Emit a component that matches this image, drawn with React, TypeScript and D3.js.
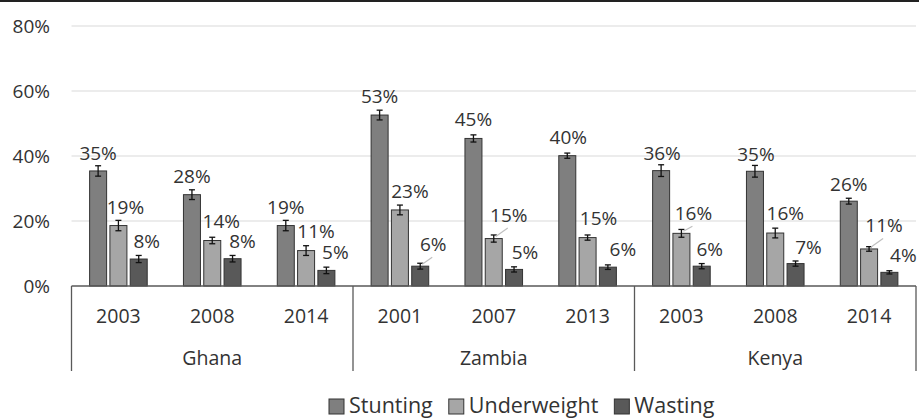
import { useEffect, useRef } from "react";
import * as d3 from "d3";

const countries = ["Ghana", "Zambia", "Kenya"];
const years = ["2003", "2008", "2014", "2001", "2007", "2013", "2003", "2008", "2014"];
const seriesNames = ["Stunting", "Underweight", "Wasting"];

const stunting = [35.4, 28.1, 18.6, 52.6, 45.4, 40.1, 35.5, 35.3, 26.1];
const underweight = [18.6, 14.0, 10.9, 23.4, 14.6, 14.9, 16.2, 16.3, 11.4];
const wasting = [8.3, 8.4, 4.8, 6.1, 5.1, 5.8, 6.1, 6.9, 4.2];

const stuntingErr = [1.6, 1.5, 1.6, 1.5, 1.1, 0.8, 1.8, 1.8, 0.9];
const underweightErr = [1.6, 1.0, 1.5, 1.5, 1.1, 0.8, 1.2, 1.5, 0.7];
const wastingErr = [1.1, 1.0, 1.0, 0.9, 0.8, 0.7, 0.8, 0.8, 0.5];

const yTicks = [0, 20, 40, 60, 80];

const COLORS = ["#7f7f7f", "#a6a6a6", "#595959"];
const FONT = "'Open Sans', sans-serif";

// manual label nudges [dx, dy] per category / series (labels were dragged in the original)
const labelNudge: [number, number][][] = [
  [[0, -18], [7, -18], [8, -18]],
  [[0, -18], [9, -19], [10, -17]],
  [[0, -18], [10, -19], [9, -18]],
  [[0, -19], [10, -19], [13, -22]],
  [[0, -19], [15, -23.5], [11, -17]],
  [[1, -18], [11, -19], [15, -18]],
  [[1, -17], [12, -20], [8, -17]],
  [[1, -17], [10, -20], [13, -16]],
  [[0, -17], [15, -23.5], [14, -17]],
];
const leaders = new Set(["3-2", "4-1", "6-1", "8-1"]);

export default function App() {
  const svgRef = useRef<SVGSVGElement>(null);

  useEffect(() => {
    const svgEl = svgRef.current;
    if (!svgEl) return;
    const width = 919;
    const height = 419;
    const left = 71.5;
    const right = 916;
    const top = 26;
    const bottom = 286;

    const svg = d3.select(svgEl);
    svg.selectAll("*").remove();
    svg.append("rect").attr("width", width).attr("height", height).attr("fill", "#fff");
    svg.append("line").attr("x1", 0).attr("x2", width).attr("y1", 1).attr("y2", 1)
      .attr("stroke", "#222").attr("stroke-width", 2);

    const values = [stunting, underweight, wasting];
    const errs = [stuntingErr, underweightErr, wastingErr];

    const y = d3.scaleLinear().domain([0, 80]).range([bottom, top]);
    const x0 = d3.scaleBand<number>().domain(d3.range(years.length)).range([left, right]);
    const half = 28.8;
    const x1 = d3.scaleBand<number>().domain([0, 1, 2])
      .range([x0.bandwidth() / 2 - half, x0.bandwidth() / 2 + half]).paddingInner(0.1626);
    const xg = d3.scaleBand<number>().domain(d3.range(countries.length)).range([left, right]);

    // gridlines
    svg.append("g").selectAll("line").data(yTicks.filter((t) => t > 0)).enter().append("line")
      .attr("x1", left).attr("x2", right).attr("y1", (d) => y(d)).attr("y2", (d) => y(d))
      .attr("stroke", "#d9d9d9").attr("stroke-width", 1.2);

    // y tick labels
    svg.append("g").selectAll("text").data(yTicks).enter().append("text")
      .attr("x", 50).attr("y", (d) => y(d)).attr("dy", "0.35em")
      .attr("text-anchor", "end").attr("font-family", FONT).attr("font-size", 19)
      .attr("fill", "#333").text((d) => `${d}%`);

    // bars
    const cat = svg.append("g").selectAll("g").data(d3.range(years.length)).enter().append("g")
      .attr("transform", (i) => `translate(${x0(i)},0)`);

    seriesNames.forEach((_, s) => {
      cat.append("rect")
        .attr("x", x1(s)!).attr("width", x1.bandwidth())
        .attr("y", (i) => y(values[s][i])).attr("height", (i) => bottom - y(values[s][i]))
        .attr("fill", COLORS[s]).attr("stroke", "#333").attr("stroke-width", 1);
    });

    // error bars
    seriesNames.forEach((_, s) => {
      const cx = x1(s)! + x1.bandwidth() / 2;
      const eb = cat.append("g");
      eb.append("line").attr("x1", cx).attr("x2", cx)
        .attr("y1", (i) => y(values[s][i] - errs[s][i])).attr("y2", (i) => y(values[s][i] + errs[s][i]))
        .attr("stroke", "#111").attr("stroke-width", 1.3);
      [-1, 1].forEach((k) => {
        eb.append("line").attr("x1", cx - 3).attr("x2", cx + 3)
          .attr("y1", (i) => y(values[s][i] + k * errs[s][i])).attr("y2", (i) => y(values[s][i] + k * errs[s][i]))
          .attr("stroke", "#111").attr("stroke-width", 1.3);
      });
    });

    // leader lines + labels
    seriesNames.forEach((_, s) => {
      const cx = x1(s)! + x1.bandwidth() / 2;
      cat.filter((i) => leaders.has(`${i}-${s}`)).append("line")
        .attr("x1", cx + 2).attr("y1", (i) => y(values[s][i]) - 2)
        .attr("x2", (i) => cx + labelNudge[i][s][0] - 1)
        .attr("y2", (i) => y(values[s][i]) + labelNudge[i][s][1] + 13)
        .attr("stroke", "#bfbfbf").attr("stroke-width", 1.2);
      cat.append("text")
        .attr("x", (i) => cx + labelNudge[i][s][0])
        .attr("y", (i) => y(values[s][i]) + labelNudge[i][s][1])
        .attr("dy", "0.35em").attr("text-anchor", "middle")
        .attr("font-family", FONT).attr("font-size", 19).attr("fill", "#333")
        .text((i) => `${Math.round(values[s][i])}%`);
    });

    // category axis
    svg.append("line").attr("x1", left).attr("x2", right).attr("y1", bottom).attr("y2", bottom)
      .attr("stroke", "#595959").attr("stroke-width", 1.3);
    const seps = [left, ...countries.map((_, g) => xg(g)! + xg.bandwidth())];
    svg.append("g").selectAll("line").data(seps).enter().append("line")
      .attr("x1", (d) => d).attr("x2", (d) => d).attr("y1", bottom).attr("y2", 371)
      .attr("stroke", "#595959").attr("stroke-width", 1.3);

    svg.append("g").selectAll("text").data(years).enter().append("text")
      .attr("x", (_, i) => x0(i)! + x0.bandwidth() / 2).attr("y", 316).attr("dy", "0.35em")
      .attr("text-anchor", "middle").attr("font-family", FONT).attr("font-size", 19.5)
      .attr("fill", "#333").text((d) => d);

    svg.append("g").selectAll("text").data(countries).enter().append("text")
      .attr("x", (_, g) => xg(g)! + xg.bandwidth() / 2).attr("y", 358).attr("dy", "0.35em")
      .attr("text-anchor", "middle").attr("font-family", FONT).attr("font-size", 19.5)
      .attr("fill", "#333").text((d) => d);

    // legend
    const legend = svg.append("g").attr("transform", "translate(0,405)");
    let lx = 329;
    seriesNames.forEach((name, s) => {
      legend.append("rect").attr("x", lx).attr("y", -6).attr("width", 15).attr("height", 15)
        .attr("fill", COLORS[s]).attr("stroke", "#333").attr("stroke-width", 1);
      const t = legend.append("text").attr("x", lx + 20).attr("y", 0).attr("dy", "0.35em")
        .attr("font-family", FONT).attr("font-size", 21.5).attr("fill", "#333").text(name);
      const w = (t.node() as SVGTextElement).getComputedTextLength();
      lx += 20 + w + 16;
    });
  }, []);

  return (
    <svg
      ref={svgRef}
      width={919}
      height={419}
      style={{ position: "fixed", left: 0, top: 0, display: "block" }}
    />
  );
}
